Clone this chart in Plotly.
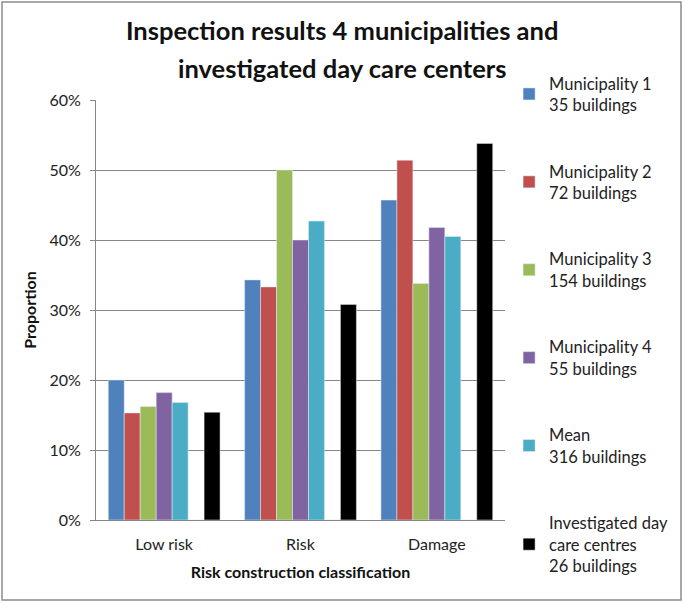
import plotly.graph_objects as go

categories = ["Low risk", "Risk", "Damage"]
series_names = [
    "Municipality 1<br>35 buildings",
    "Municipality 2<br>72 buildings",
    "Municipality 3<br>154 buildings",
    "Municipality 4<br>55 buildings",
    "Mean<br>316 buildings",
    "Investigated day<br>care centres<br>26 buildings",
]
municipality_1 = [0.200, 0.343, 0.457]
municipality_2 = [0.153, 0.333, 0.514]
municipality_3 = [0.162, 0.500, 0.338]
municipality_4 = [0.182, 0.400, 0.418]
mean_all = [0.168, 0.427, 0.405]
day_care = [0.154, 0.308, 0.538]
colors = ["#4F81BD", "#C0504D", "#9BBB59", "#8064A2", "#4BACC6", "#000000"]
title_lines = ["Inspection results 4 municipalities and", "investigated day care centers"]

FONT = "Lato"

W, H = 684, 603
ML, MR, MT, MB = 96, 179, 100, 83
PW = W - ML - MR
PH = H - MT - MB


def px_x(x):
    return (x - ML) / PW


def px_y(y):
    return (H - MB - y) / PH


fig = go.Figure()
values = [municipality_1, municipality_2, municipality_3, municipality_4, mean_all]
for name, vals, col in zip(series_names[:5], values, colors[:5]):
    fig.add_trace(go.Bar(x=categories, y=vals, name=name, marker_color=col,
                         legendgroup=name))
# empty slot between the mean and the day care bars
fig.add_trace(go.Bar(x=categories, y=[0, 0, 0], showlegend=False,
                     marker_color="rgba(0,0,0,0)", hoverinfo="skip"))
fig.add_trace(go.Bar(x=categories, y=day_care, name=series_names[5],
                     marker_color=colors[5], legendgroup=series_names[5]))

# chart area border
fig.add_shape(type="rect", xref="paper", yref="paper",
              x0=px_x(2), x1=px_x(681), y0=px_y(600), y1=px_y(2),
              line=dict(color="#8C8C8C", width=1.5), layer="below")

# two-line title
for text, ypix in zip(title_lines, [30, 68]):
    fig.add_annotation(text="<b>%s</b>" % text, xref="paper", yref="paper",
                       x=px_x(342), y=px_y(ypix), xanchor="center", yanchor="middle",
                       showarrow=False, font=dict(family=FONT, size=25.5, color="#111111"))

fig.update_layout(
    width=W, height=H,
    margin=dict(l=ML, r=MR, t=MT, b=MB, autoexpand=False),
    barmode="group", bargap=0.18, bargroupgap=0,
    plot_bgcolor="white", paper_bgcolor="white",
    font=dict(family=FONT, size=16, color="#222222"),
    xaxis=dict(
        title=dict(text="<b>Risk construction classification</b>",
                   font=dict(size=16, color="#111111"), standoff=14),
        showline=True, linecolor="#868686", linewidth=1,
        tickfont=dict(size=16), ticks="", ticklabelstandoff=10,
    ),
    yaxis=dict(
        title=dict(text="<b>Proportion</b>", font=dict(size=16, color="#111111"),
                   standoff=8),
        range=[0, 0.6], dtick=0.1, tickformat=".0%",
        showline=True, linecolor="#868686", linewidth=1,
        showgrid=True, gridcolor="#868686", gridwidth=1,
        ticks="outside", ticklen=5, tickcolor="#868686",
        tickfont=dict(size=16), zeroline=False, ticklabelstandoff=6,
    ),
    legend=dict(
        x=1.01, xanchor="left", y=px_y(66), yanchor="top",
        font=dict(family=FONT, size=16.5, color="#222222"),
        tracegroupgap=42, itemwidth=30, bgcolor="rgba(0,0,0,0)",
        maxheight=600,
    ),
)

fig.write_html("out.html", config={"displayModeBar": False},
               post_script="document.body.style.margin='0';")
